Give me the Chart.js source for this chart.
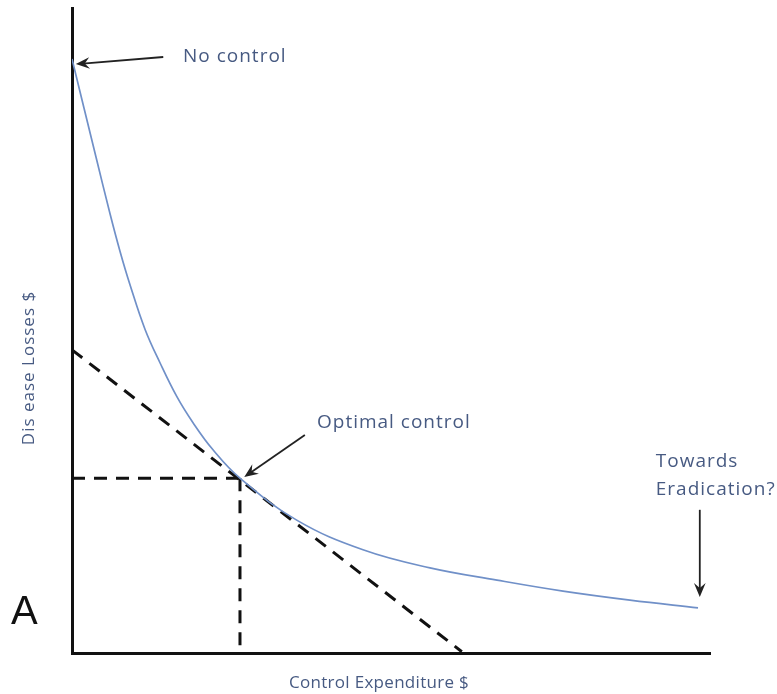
<!DOCTYPE html>
<html>
<head>
<meta charset="utf-8">
<script src="https://cdn.jsdelivr.net/npm/chart.js@4.4.0/dist/chart.umd.min.js"></script>
<style>
  html, body { margin: 0; padding: 0; background: #fff; }
  #wrap { width: 777px; height: 694px; position: relative; }
</style>
</head>
<body>
<div id="wrap"><canvas id="mainChart"></canvas></div>
<script>
// Data (x = control expenditure, y = disease losses, both 0..100)
const lossCurveX = [0, 3.76, 5.96, 7.52, 9.09, 11.44, 13.79, 16.46, 18.97, 22.10, 26.33, 35.22, 45.61, 56.11, 66.61, 76.96, 87.46, 98.12];
const lossCurveY = [92.1, 76.9, 68.1, 62.3, 57.1, 50.2, 45.0, 39.7, 35.7, 31.5, 27.1, 20.6, 16.0, 13.2, 11.3, 9.6, 8.2, 7.0];
const tangentX = [0, 61.1];
const tangentY = [47.0, 0.2];
const optimumX = 26.33;
const optimumY = 27.1;

const axisTitleX = 'Control Expenditure $';
const axisTitleY = 'Dis ease Losses $';
const panelLabel = 'A';

// Annotations: label text + arrows (tail -> head), in data units
const noteLabels = [
    { text: 'No control', x: 17.4, y: 92.4 },
    { text: 'Optimal control', x: 38.4, y: 35.7 },
    { text: 'Towards', x: 91.5, y: 29.6 },
    { text: 'Eradication?', x: 91.5, y: 25.4 }
];
const noteArrows = [
    { from: [14.3, 92.4], to: [0.6, 91.3] },
    { from: [36.5, 33.8], to: [27.0, 27.3] },
    { from: [98.4, 22.2], to: [98.4, 8.7] }
];

const textColor = '#475a82';
const pts = (xs, ys) => xs.map((x, i) => ({ x: x, y: ys[i] }));

const annotationPlugin = {
    id: 'notes',
    afterDraw(chart) {
        const { ctx, scales: { x, y }, chartArea } = chart;
        ctx.save();

        // arrows
        ctx.strokeStyle = '#222';
        ctx.fillStyle = '#222';
        ctx.lineWidth = 1.8;
        noteArrows.forEach(a => {
            const x1 = x.getPixelForValue(a.from[0]), y1 = y.getPixelForValue(a.from[1]);
            const x2 = x.getPixelForValue(a.to[0]), y2 = y.getPixelForValue(a.to[1]);
            const ang = Math.atan2(y2 - y1, x2 - x1);
            const len = 15;
            ctx.beginPath();
            ctx.moveTo(x1, y1);
            ctx.lineTo(x2 - Math.cos(ang) * 7, y2 - Math.sin(ang) * 7);
            ctx.stroke();
            ctx.beginPath();
            ctx.moveTo(x2, y2);
            ctx.lineTo(x2 - len * Math.cos(ang - 0.4), y2 - len * Math.sin(ang - 0.4));
            ctx.lineTo(x2 - len * 0.6 * Math.cos(ang), y2 - len * 0.6 * Math.sin(ang));
            ctx.lineTo(x2 - len * Math.cos(ang + 0.4), y2 - len * Math.sin(ang + 0.4));
            ctx.closePath();
            ctx.fill();
        });

        // note labels
        ctx.fillStyle = textColor;
        ctx.font = '19px "Open Sans"';
        ctx.letterSpacing = '1px';
        ctx.textAlign = 'left';
        ctx.textBaseline = 'middle';
        noteLabels.forEach(n => {
            ctx.fillText(n.text, x.getPixelForValue(n.x), y.getPixelForValue(n.y));
        });

        // axis titles
        ctx.font = '17px "Open Sans"';
        ctx.letterSpacing = '0.3px';
        ctx.textAlign = 'center';
        ctx.fillText(axisTitleX, 379, chartArea.bottom + 30);
        ctx.letterSpacing = '1px';
        ctx.translate(29, 368);
        ctx.rotate(-Math.PI / 2);
        ctx.fillText(axisTitleY, 0, 0);
        ctx.setTransform(1, 0, 0, 1, 0, 0);

        // panel label
        ctx.letterSpacing = '0px';
        ctx.fillStyle = '#111';
        ctx.font = '40px "Liberation Sans"';
        ctx.textAlign = 'left';
        ctx.fillText(panelLabel, 11, chartArea.bottom - 40);
        ctx.restore();
    }
};

const ctx = document.getElementById('mainChart').getContext('2d');
const mainChart = new Chart(ctx, {
    type: 'scatter',
    data: {
        datasets: [
            {
                label: 'Disease losses',
                data: pts(lossCurveX, lossCurveY),
                showLine: true,
                borderColor: '#7090c8',
                borderWidth: 1.7,
                tension: 0.4,
                pointRadius: 0
            },
            {
                label: 'Tangent',
                data: pts(tangentX, tangentY),
                showLine: true,
                borderColor: '#111',
                borderWidth: 3,
                borderDash: [13, 9],
                pointRadius: 0
            },
            {
                label: 'Optimum horizontal',
                data: [{ x: 0, y: optimumY }, { x: optimumX, y: optimumY }],
                showLine: true,
                borderColor: '#111',
                borderWidth: 3,
                borderDash: [13, 9],
                pointRadius: 0
            },
            {
                label: 'Optimum vertical',
                data: [{ x: optimumX, y: optimumY }, { x: optimumX, y: 0 }],
                showLine: true,
                borderColor: '#111',
                borderWidth: 3,
                borderDash: [13, 9],
                pointRadius: 0
            }
        ]
    },
    options: {
        responsive: true,
        maintainAspectRatio: false,
        animation: false,
        layout: { padding: { left: 72, right: 67, top: 8, bottom: 41 } },
        plugins: { legend: { display: false }, tooltip: { enabled: false } },
        scales: {
            x: {
                type: 'linear', min: 0, max: 100,
                grid: { display: false, drawTicks: false },
                border: { display: true, color: '#111', width: 3 },
                ticks: { display: false }
            },
            y: {
                type: 'linear', min: 0, max: 100,
                grid: { display: false, drawTicks: false },
                border: { display: true, color: '#111', width: 3 },
                ticks: { display: false }
            }
        }
    },
    plugins: [annotationPlugin]
});
</script>
</body>
</html>
